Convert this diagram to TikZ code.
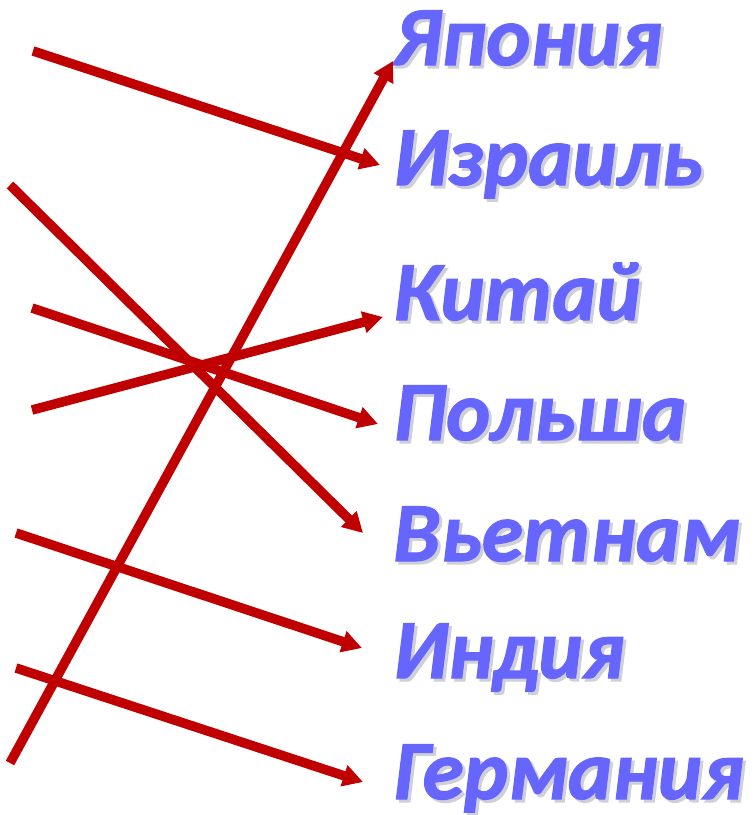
\documentclass[tikz,border=0pt]{standalone}
\usepackage{fontspec}
\setmainfont{Carlito}
\newfontfamily\countryfont{Carlito Bold Italic}[FakeBold=1.4]
\usetikzlibrary{arrows.meta}
\definecolor{cRed}{HTML}{C00000}
\definecolor{cLabel}{HTML}{6666FF}
\definecolor{cShade}{HTML}{CFCFD8}
\newcommand{\shadetext}[1]{\makebox[0pt][l]{\kern3pt\raisebox{-3pt}{\color{cShade}#1}}#1}
\begin{document}
\begin{tikzpicture}[x=1pt, y=-1pt, >={Triangle[length=20pt,width=21pt]},
  country/.style={anchor=base west, inner sep=0pt, text=cLabel, font=\fontsize{84}{84}\countryfont},
  link/.style={->, cRed, line width=9.5pt}]
  \useasboundingbox (0,0) rectangle (755,815);
  % countries
  \node[country] (jp) at (393,65) {\shadetext{Япония}};
  \node[country] (il) at (393,185) {\shadetext{Израиль}};
  \node[country] (cn) at (393,320) {\shadetext{Китай}};
  \node[country] (pl) at (393,440) {\shadetext{Польша}};
  \node[country] (vn) at (393,561) {\shadetext{Вьетнам}};
  \node[country] (in) at (393,678) {\shadetext{Индия}};
  \node[country] (de) at (393,799) {\shadetext{Германия}};
  % free ends on the left
  \coordinate (sIL) at (33,51);
  \coordinate (sVN) at (10,185);
  \coordinate (sPL) at (32,308);
  \coordinate (sCN) at (32,410);
  \coordinate (sIN) at (16,533);
  \coordinate (sDE) at (16,668);
  \coordinate (sJP) at (10,763);
  % arrow tips next to the countries
  \coordinate (tJP) at (393,61);
  \coordinate (tIL) at (380,165);
  \coordinate (tCN) at (383,317);
  \coordinate (tPL) at (378,424);
  \coordinate (tVN) at (363,533);
  \coordinate (tIN) at (362,648);
  \coordinate (tDE) at (363,782);
  \draw[link] (sIL) -- (tIL);
  \draw[link] (sVN) -- (tVN);
  \draw[link] (sPL) -- (tPL);
  \draw[link] (sCN) -- (tCN);
  \draw[link] (sIN) -- (tIN);
  \draw[link] (sDE) -- (tDE);
  \draw[link] (sJP) -- (tJP);
\end{tikzpicture}
\end{document}
